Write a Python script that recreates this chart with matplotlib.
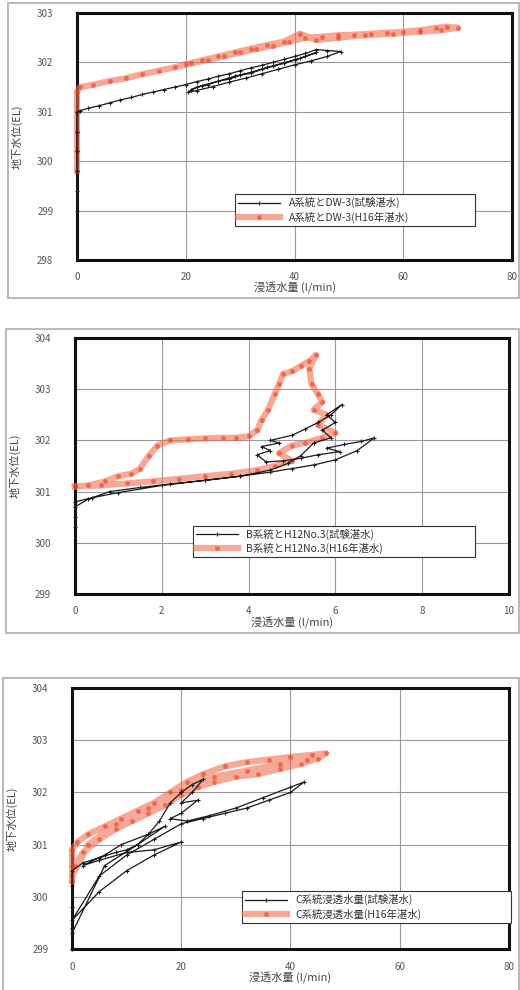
import matplotlib.pyplot as plt
from matplotlib.patches import Rectangle

plt.rcParams['font.family'] = ['Noto Sans CJK JP', 'DejaVu Sans']

# ---- data ----
# A系統 (0-80 l/min)
a_test_x = [0, 0, 0, 0, 0, 0, 0.5, 2, 4, 6, 8, 10, 12, 14, 16, 18, 20, 22, 24, 26, 28, 30, 32, 34,
            36, 38, 40, 42, 44, 46, 48.5, 46, 43, 40, 37, 34, 31, 28, 25, 22, 20.5, 22, 24, 26, 28,
            30, 32, 34, 36, 38, 40, 42, 44, 41, 38, 35, 32, 29, 26, 23, 21]
a_test_y = [299.0, 299.4, 299.8, 300.2, 300.6, 301.0, 301.02, 301.07, 301.12, 301.18, 301.24,
            301.29, 301.35, 301.40, 301.45, 301.50, 301.55, 301.61, 301.66, 301.72, 301.77,
            301.83, 301.89, 301.94, 302.00, 302.06, 302.12, 302.18, 302.26, 302.24, 302.22,
            302.12, 302.03, 301.95, 301.86, 301.77, 301.68, 301.60, 301.51, 301.43, 301.40,
            301.50, 301.55, 301.62, 301.66, 301.74, 301.78, 301.86, 301.92, 301.98, 302.05,
            302.12, 302.20, 302.08, 301.99, 301.90, 301.80, 301.72, 301.62, 301.53, 301.45]
a_h16_x = [0, 0, 0, 0, 0, 0.5, 3, 6, 9, 12, 15, 18, 21, 24, 27, 30, 33, 36, 39, 42, 45, 48, 51,
           54, 57, 60, 63, 66, 68, 70, 67, 63, 58, 53, 48, 44, 41, 38, 35, 32, 29, 26, 23, 20]
a_h16_y = [299.8, 300.2, 300.6, 301.0, 301.4, 301.5, 301.55, 301.62, 301.68, 301.76, 301.83,
           301.9, 301.98, 302.05, 302.12, 302.2, 302.27, 302.34, 302.42, 302.5, 302.52, 302.55,
           302.56, 302.58, 302.6, 302.62, 302.65, 302.7, 302.72, 302.7, 302.65, 302.62, 302.58,
           302.55, 302.5, 302.45, 302.58, 302.42, 302.35, 302.28, 302.2, 302.12, 302.04, 301.96]

# B系統 (0-10 l/min)
b_test_x = [0, 0, 0, 0.3, 0.8, 1.5, 2.2, 3.0, 3.8, 4.5, 5.0, 5.5, 6.0, 6.5, 6.9, 6.6, 6.2, 5.8,
            6.1, 5.6, 5.2, 4.8, 4.4, 4.2, 4.5, 4.3, 4.7, 4.5, 5.0, 5.3, 5.6, 5.9, 6.15, 5.8, 6.0,
            5.7, 5.9, 5.5, 5.2, 4.9, 4.5, 3.8, 3.0, 2.0, 1.0, 0.4, 0]
b_test_y = [300.3, 300.5, 300.7, 300.85, 301.0, 301.08, 301.15, 301.22, 301.3, 301.38, 301.45,
            301.52, 301.62, 301.8, 302.05, 301.98, 301.92, 301.85, 301.78, 301.72, 301.65, 301.6,
            301.58, 301.72, 301.8, 301.88, 301.95, 302.0, 302.1, 302.22, 302.35, 302.5, 302.7,
            302.5, 302.35, 302.2, 302.05, 301.95, 301.7, 301.55, 301.42, 301.3, 301.22, 301.12,
            300.98, 300.88, 300.8]
b_h16_x = [0, 0.3, 0.7, 1.0, 1.3, 1.5, 1.7, 1.9, 2.2, 2.6, 3.0, 3.4, 3.7, 4.0, 4.2, 4.3, 4.45,
           4.6, 4.7, 4.8, 5.0, 5.2, 5.4, 5.55, 5.4, 5.45, 5.6, 5.7, 5.5, 5.8, 5.6, 6.0, 5.7, 5.3,
           5.0, 4.7, 5.0, 4.6, 4.2, 3.6, 3.0, 2.4, 1.8, 1.2, 0.6, 0]
b_h16_y = [301.1, 301.12, 301.2, 301.3, 301.35, 301.45, 301.7, 301.9, 302.0, 302.02, 302.04,
           302.05, 302.05, 302.08, 302.2, 302.4, 302.6, 302.9, 303.1, 303.3, 303.35, 303.45,
           303.55, 303.67, 303.4, 303.1, 302.9, 302.75, 302.6, 302.5, 302.3, 302.15, 302.05,
           301.95, 301.9, 301.75, 301.6, 301.5, 301.42, 301.35, 301.3, 301.25, 301.2, 301.16,
           301.12, 301.1]

# C系統 (0-80 l/min)
c_test_x = [0, 0, 0, 0, 0, 2, 5, 8, 10, 12, 14, 16, 18, 20, 22, 24, 22, 20, 23, 20, 18, 21, 25,
            30, 35, 40, 42.5, 40, 36, 32, 28, 24, 20, 15, 10, 5, 0, 5, 10, 15, 20, 15, 10, 5, 2,
            6, 9, 14, 17, 12, 6, 0]
c_test_y = [299.0, 299.4, 299.8, 300.2, 300.5, 300.65, 300.75, 300.85, 300.9, 301.0, 301.2,
            301.45, 301.8, 302.0, 302.15, 302.25, 302.0, 301.8, 301.85, 301.6, 301.5, 301.45,
            301.55, 301.7, 301.9, 302.1, 302.2, 302.0, 301.85, 301.7, 301.6, 301.5, 301.4, 301.1,
            300.8, 300.4, 299.55, 300.1, 300.5, 300.8, 301.05, 300.9, 300.85, 300.7, 300.6, 300.8,
            301.0, 301.2, 301.35, 301.0, 300.6, 299.3]
c_h16_x = [0, 0, 0, 1, 3, 6, 9, 12, 15, 18, 21, 24, 28, 32, 36, 40, 44, 46.5, 45, 42, 38, 34, 30,
           26, 23, 20, 17, 14, 11, 8, 5, 2, 0.5, 0, 3, 8, 14, 20, 26, 32, 38, 43]
c_h16_y = [300.3, 300.6, 300.9, 301.05, 301.2, 301.35, 301.5, 301.65, 301.8, 302.0, 302.2,
           302.35, 302.5, 302.58, 302.63, 302.68, 302.72, 302.75, 302.65, 302.55, 302.45, 302.35,
           302.3, 302.2, 302.1, 301.95, 301.75, 301.6, 301.45, 301.3, 301.1, 300.85, 300.6, 300.4,
           301.0, 301.4, 301.7, 302.05, 302.3, 302.42, 302.55, 302.62]

a_labels = ['A系統とDW-3(試験湛水)', 'A系統とDW-3(H16年湛水)']
b_labels = ['B系統とH12No.3(試験湛水)', 'B系統とH12No.3(H16年湛水)']
c_labels = ['C系統浸透水量(試験湛水)', 'C系統浸透水量(H16年湛水)']

ylab = '地下水位(EL)'
xlab = '浸透水量 (l/min)'

fig = plt.figure(figsize=(5.2, 9.9), dpi=100)

# outer frames
for (x0, y0, w, h) in [(0.0154, 0.699, 0.983, 0.298), (0.0115, 0.3606, 0.987, 0.307),
                       (0.006, -0.01, 0.993, 0.325)]:
    fig.patches.append(Rectangle((x0, y0), w, h, transform=fig.transFigure,
                                 fill=False, edgecolor='#bbbbbb', linewidth=1.5))

panels = [
    ([0.148, 0.7374, 0.837, 0.2495], a_test_x, a_test_y, a_h16_x, a_h16_y, a_labels,
     (0, 80), [0, 20, 40, 60, 80], (298, 303), (0.352, 0.126, 0.574, 0.153)),
    ([0.144, 0.40, 0.835, 0.2586], b_test_x, b_test_y, b_h16_x, b_h16_y, b_labels,
     (0, 10), [0, 2, 4, 6, 8, 10], (299, 304), (0.26, 0.137, 0.673, 0.136)),
    ([0.1385, 0.0414, 0.840, 0.2636], c_test_x, c_test_y, c_h16_x, c_h16_y, c_labels,
     (0, 80), [0, 20, 40, 60, 80], (299, 304), (0.378, 0.084, 0.64, 0.154)),
]

for pos, tx, ty, hx, hy, labels, xlim, xticks, ylim, lbox in panels:
    ax = fig.add_axes(pos)
    ax.plot(hx, hy, color='#f36e50', alpha=0.6, linewidth=4.5, marker='o', markersize=3.5,
            markerfacecolor='#e8401e', markeredgecolor='none', label=labels[1], zorder=3,
            clip_on=False)
    ax.plot(tx, ty, color='#1a1a1a', linewidth=0.9, marker='+', markersize=3.5,
            markeredgewidth=0.8, label=labels[0], zorder=4, clip_on=False)
    ax.set_xlim(*xlim)
    ax.set_ylim(*ylim)
    ax.set_xticks(xticks)
    ax.set_yticks(range(ylim[0], ylim[1] + 1))
    ax.grid(True, color='#9a9a9a', linewidth=0.8)
    ax.set_axisbelow(True)
    for s in ax.spines.values():
        s.set_linewidth(2.2)
        s.set_color('#111111')
    ax.tick_params(length=0, labelsize=7, labelcolor='#555555')
    ax.tick_params(axis='x', pad=9)
    ax.tick_params(axis='y', pad=17)
    ax.set_xlabel(xlab, fontsize=8, color='#444444', labelpad=0)
    ax.set_ylabel(ylab, fontsize=8, color='#444444', labelpad=10)
    h, l = ax.get_legend_handles_labels()
    leg = ax.legend(h[::-1], l[::-1], loc='center', bbox_to_anchor=lbox, mode='expand',
                    fontsize=7.5, handlelength=4, frameon=True, fancybox=False,
                    edgecolor='#333333', framealpha=1, borderpad=0.3, labelspacing=0.3)
    leg.get_frame().set_linewidth(0.8)
    leg.set_zorder(5)
    for t in leg.get_texts():
        t.set_color('#333333')

fig.savefig('out.png', dpi=100)
